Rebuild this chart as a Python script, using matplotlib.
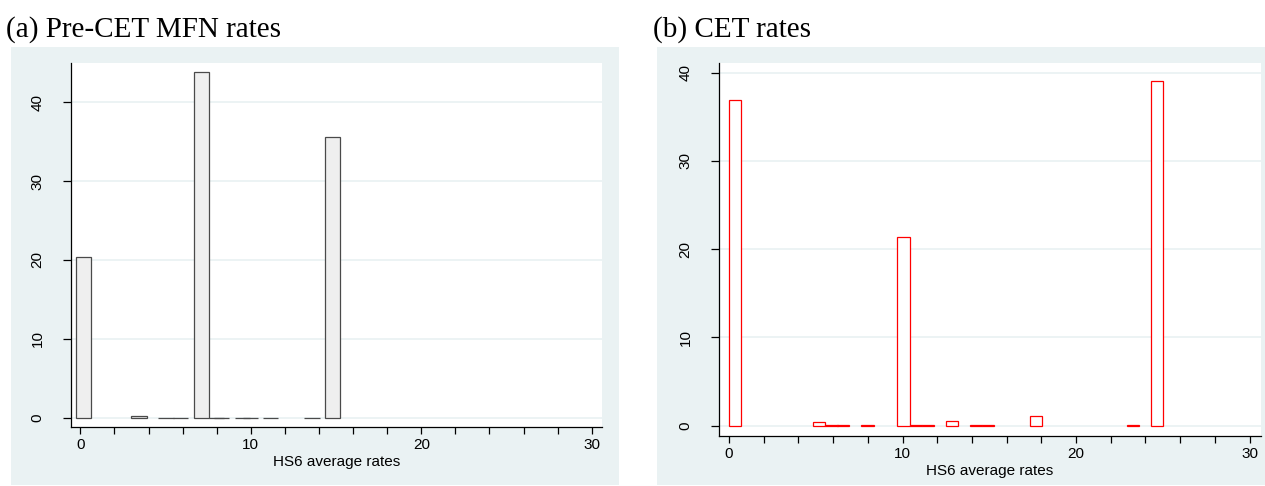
import matplotlib
matplotlib.use("Agg")
import matplotlib.pyplot as plt
from matplotlib.patches import Rectangle

# ---- data ----
rates_a = [0.20, 3.44, 5.03, 5.88, 7.10, 8.00, 8.29, 9.52, 9.98, 11.14, 13.59, 14.80]
share_a = [20.35, 0.18, 0.03, 0.03, 43.85, 0.04, 0.03, 0.04, 0.02, 0.03, 0.03, 35.55]

rates_b = [0.32, 5.20, 5.90, 6.57, 7.98, 10.05, 10.75, 11.46, 12.85, 14.24, 14.94, 17.70, 23.30, 24.68]
share_b = [36.85, 0.40, 0.03, 0.03, 0.12, 21.42, 0.03, 0.03, 0.58, 0.03, 0.03, 1.08, 0.03, 39.10]

xtick_vals = list(range(0, 31, 2))
xtick_labels = [str(v) if v % 10 == 0 else "" for v in xtick_vals]
ytick_vals = [0, 10, 20, 30, 40]
titles = ["(a) Pre-CET MFN rates", "(b) CET rates"]
xlabel = "HS6 average rates"

W, H = 1265, 486
fig = plt.figure(figsize=(W / 100, H / 100), dpi=100)
fig.patch.set_facecolor("white")

BG = "#EAF2F3"


def px_rect(x0, y0, x1, y1):
    return [x0 / W, 1 - y1 / H, (x1 - x0) / W, (y1 - y0) / H]


# panel backgrounds
for (x0, y0, x1, y1) in [(11, 47, 619, 485), (657, 47, 1265, 485)]:
    fig.patches.append(Rectangle((x0 / W, 1 - y1 / H), (x1 - x0) / W, (y1 - y0) / H,
                                 transform=fig.transFigure, facecolor=BG,
                                 edgecolor="none", zorder=-5))

sans = ["Liberation Sans", "DejaVu Sans"]
serif = ["Liberation Serif", "DejaVu Serif"]


def setup(ax, xlim, ylim):
    ax.set_facecolor("white")
    ax.set_xlim(*xlim)
    ax.set_ylim(*ylim)
    for s in ["top", "right"]:
        ax.spines[s].set_visible(False)
    for s in ["left", "bottom"]:
        ax.spines[s].set_color("black")
        ax.spines[s].set_linewidth(0.9)
    ax.set_xticks(xtick_vals)
    ax.set_xticklabels(xtick_labels, fontfamily=sans, fontsize=11)
    ax.set_yticks(ytick_vals)
    ax.set_yticklabels([str(v) for v in ytick_vals], fontfamily=sans, fontsize=11,
                       rotation=90, va="center")
    ax.tick_params(axis="x", length=5, width=0.9, pad=3)
    ax.tick_params(axis="y", length=6, width=0.9, pad=13)
    ax.yaxis.grid(True, color=BG, linewidth=1.3)
    ax.set_axisbelow(True)
    ax.set_xlabel(xlabel, fontfamily=sans, fontsize=11, labelpad=2)


ax1 = fig.add_axes(px_rect(71, 62.7, 602, 427.3))
setup(ax1, (-0.55, 30.6), (-1.2, 45.0))
ax1.bar(rates_a, share_a, width=0.9, color="#EFEFEF", edgecolor="#4A4A4A",
        linewidth=0.9, zorder=3)

ax2 = fig.add_axes(px_rect(719, 62.7, 1260.7, 436))
setup(ax2, (-0.58, 30.64), (-1.17, 41.13))
ax2.bar(rates_b, share_b, width=0.7, color="white", edgecolor="#FF0000",
        linewidth=0.9, zorder=3)

fig.text(6 / W, 1 - 37 / H, titles[0], fontfamily=serif, fontsize=21, va="baseline", ha="left")
fig.text(653 / W, 1 - 37 / H, titles[1], fontfamily=serif, fontsize=21, va="baseline", ha="left")

fig.savefig("out.png", dpi=100, facecolor="white")
